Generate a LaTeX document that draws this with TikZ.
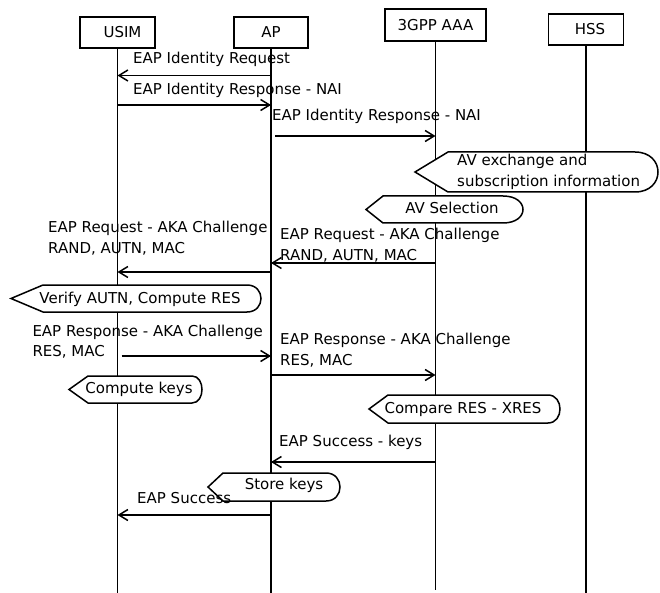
\documentclass[tikz,border=0pt]{standalone}
\usepackage{fontspec}
\setmainfont{DejaVu Sans}
\usetikzlibrary{arrows.meta}
\newcommand{\actshape}[6]{%
  \draw[act] (#1,{(#5+#6)/2}) -- (#2,#5) -- (#3,#5)
    .. controls ({#3+(#4-#3)*4/3},#5) and ({#3+(#4-#3)*4/3},#6) .. (#3,#6)
    -- (#2,#6) -- cycle;}
\begin{document}
\begin{tikzpicture}[x=1pt,y=-1pt,
  every node/.style={font=\fontsize{15}{20}\selectfont, inner sep=0pt},
  entity/.style={draw, line width=1.8pt, minimum height=31pt, anchor=center},
  lifeline/.style={line width=1.4pt},
  msg/.style={line width=1.5pt, -{Straight Barb[length=9pt,width=11pt]}},
  lbl/.style={anchor=base west},
  actlbl/.style={anchor=base},
  act/.style={draw, fill=white, line width=1.5pt, line join=miter},
]
\useasboundingbox (0,0) rectangle (660,593);

% entities
\node[entity, minimum width=75pt] (usim) at (117.5,32.5) {\hspace*{10pt}USIM};
\node[entity, minimum width=74pt] (ap) at (271,32.5) {AP};
\node[entity, minimum width=101pt, minimum height=32pt] (aaa) at (435.5,25) {3GPP AAA};
\node[entity, minimum width=75pt] (hss) at (586,29.5) {\hspace*{8pt}HSS};

% lifelines
\draw[lifeline] (usim.south) -- (usim |- 0,593);
\draw[lifeline] (ap.south) -- (ap |- 0,593);
\draw[lifeline] (aaa.south) -- (aaa |- 0,590);
\draw[lifeline] (hss.south) -- (hss |- 0,593);

% activity boxes
\actshape{415}{448}{635}{658}{152}{192}
\actshape{366}{383}{503}{523}{196}{223}
\actshape{11}{43}{247}{261}{285}{312}
\actshape{69}{88}{192}{202}{376}{403}
\actshape{369}{388}{548}{560}{395}{423}
\actshape{208}{223}{326}{340}{473}{501}

\node[lbl] (h1a) at (457,165.7) {AV exchange and};
\node[lbl] (h1b) at (457,186.7) {subscription information};
\node[actlbl] (h2) at (452,213.3) {AV Selection};
\node[actlbl] (h3) at (140,303.5) {Verify AUTN, Compute RES};
\node[actlbl] (h4) at (139,393) {Compute keys};
\node[actlbl] (h5) at (463,413.3) {Compare RES - XRES};
\node[actlbl] (h6) at (284,489) {Store keys};

% messages
\draw[msg] (ap |- 0,75.5) -- (usim |- 0,75.5);
\node[lbl] (m1) at (133,63.3) {EAP Identity Request};

\draw[msg] (usim |- 0,105) -- (ap |- 0,105);
\node[lbl] (m2) at (133,94.3) {EAP Identity Response - NAI};

\draw[msg] ([xshift=4pt]ap.center |- 0,136) -- (aaa |- 0,136);
\node[lbl] (m3) at (272,121) {EAP Identity Response - NAI};

\draw[msg] (aaa |- 0,263) -- (ap |- 0,263);
\node[lbl] (m5a) at (280,240) {EAP Request - AKA Challenge};
\node[lbl] (m5b) at (280,260.5) {RAND, AUTN, MAC};

\draw[msg] (ap |- 0,272) -- (usim |- 0,272);
\node[lbl] (m4a) at (48,232.3) {EAP Request - AKA Challenge};
\node[lbl] (m4b) at (48,253.3) {RAND, AUTN, MAC};

\draw[msg] ([xshift=4pt]usim.center |- 0,356) -- (ap |- 0,356);
\node[lbl] (m6a) at (32.3,336.7) {EAP Response - AKA Challenge};
\node[lbl] (m6b) at (32.3,356) {RES, MAC};

\draw[msg] (ap |- 0,375) -- (aaa |- 0,375);
\node[lbl] (m7a) at (280,344.3) {EAP Response - AKA Challenge};
\node[lbl] (m7b) at (280,365) {RES, MAC};

\draw[msg] (aaa |- 0,462) -- (ap |- 0,462);
\node[lbl] (m8) at (279,446.7) {EAP Success - keys};

\draw[msg] (ap |- 0,515) -- (usim |- 0,515);
\node[lbl] (m9) at (137,503) {EAP Success};
\end{tikzpicture}
\end{document}
